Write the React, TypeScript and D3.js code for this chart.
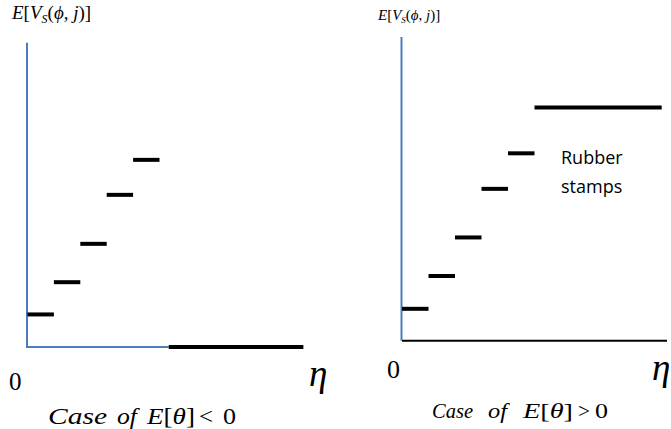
import React from "react";
import * as d3 from "d3";

// ---- data ----
const leftStepStarts = [0, 1, 2, 3, 4];
const leftStepValues = [1.07, 2.13, 3.39, 5.0, 6.15];
const leftFloor = { start: 5.35, end: 10.45, value: 0 };

const rightStepStarts = [0, 1, 2, 3, 4, 5];
const rightStepEnds = [1, 2, 3, 4, 5, 9.8];
const rightStepValues = [1.05, 2.13, 3.4, 5.0, 6.17, 7.68];

const W = 671;
const H = 429;
const BLUE = "#4A7EBB";
const SERIF = "'Liberation Serif', 'Times New Roman', serif";

function YLabel({ x, y, size }: { x: number; y: number; size: number }) {
  const sub = Math.round(size * 0.62);
  const dy = Math.round(size * 0.22);
  return (
    <text x={x} y={y} fontFamily={SERIF} fontSize={size}>
      <tspan fontStyle="italic">E</tspan>
      <tspan>[</tspan>
      <tspan fontStyle="italic">V</tspan>
      <tspan fontSize={sub} dy={dy} fontStyle="italic">S</tspan>
      <tspan dy={-dy}>(</tspan>
      <tspan fontStyle="italic">ϕ</tspan>
      <tspan>, </tspan>
      <tspan fontStyle="italic">j</tspan>
      <tspan>)]</tspan>
    </text>
  );
}

type Tok = { t: React.ReactNode; x: number; w: number; italic?: boolean };

function Caption({ y, size, toks }: { y: number; size: number; toks: Tok[] }) {
  return (
    <g fontFamily={SERIF} fontSize={size}>
      {toks.map((k, i) => (
        <text
          key={i}
          x={k.x}
          y={y}
          fontStyle={k.italic ? "italic" : "normal"}
          textLength={k.w}
          lengthAdjust="spacingAndGlyphs"
        >
          {k.t}
        </text>
      ))}
    </g>
  );
}

export default function App() {
  // left panel scales
  const lx = d3.scaleLinear().domain([0, 10]).range([27.5, 291.5]);
  const ly = d3.scaleLinear().domain([0, 10]).range([347, 42.7]);
  // right panel scales
  const rx = d3.scaleLinear().domain([0, 10]).range([402, 667]);
  const ry = d3.scaleLinear().domain([0, 10]).range([340.7, 37]);

  const theta = (
    <>
      <tspan fontStyle="italic">E</tspan>[<tspan fontStyle="italic">θ</tspan>]
    </>
  );

  return (
    <svg
      width={W}
      height={H}
      style={{ position: "absolute", left: 0, top: 0, background: "#fff" }}
    >
      <rect x={0} y={0} width={W} height={H} fill="#fff" />

      {/* ---------- left panel ---------- */}
      <YLabel x={12} y={19} size={19} />
      <line x1={lx(0) - 0.5} x2={lx(0) - 0.5} y1={ly(10)} y2={ly(0)} stroke={BLUE} strokeWidth={2} />
      <line x1={lx(0) - 1.5} x2={lx(leftFloor.start)} y1={ly(0)} y2={ly(0)} stroke={BLUE} strokeWidth={2} />
      {leftStepStarts.map((s, i) => (
        <line
          key={"l" + i}
          x1={lx(s)}
          x2={lx(s + 1)}
          y1={ly(leftStepValues[i])}
          y2={ly(leftStepValues[i])}
          stroke="#000"
          strokeWidth={4}
        />
      ))}
      <line
        x1={lx(leftFloor.start)}
        x2={lx(leftFloor.end)}
        y1={ly(leftFloor.value)}
        y2={ly(leftFloor.value)}
        stroke="#000"
        strokeWidth={4}
      />
      <text x={9} y={390} fontFamily={SERIF} fontSize={25}>0</text>
      <text x={309} y={386} fontFamily={SERIF} fontSize={37} fontStyle="italic">η</text>
      <Caption
        y={424}
        size={24}
        toks={[
          { t: "Case", x: 48, w: 59, italic: true },
          { t: "of", x: 117, w: 20, italic: true },
          { t: theta, x: 147, w: 48 },
          { t: "<", x: 199, w: 14 },
          { t: "0", x: 223, w: 13 },
        ]}
      />

      {/* ---------- right panel ---------- */}
      <YLabel x={378} y={20} size={15} />
      <line x1={rx(0) - 0.5} x2={rx(0) - 0.5} y1={ry(10)} y2={ry(0)} stroke={BLUE} strokeWidth={2} />
      <line x1={rx(0)} x2={rx(10)} y1={ry(0)} y2={ry(0)} stroke="#000" strokeWidth={2} />
      {rightStepStarts.map((s, i) => (
        <line
          key={"r" + i}
          x1={rx(s)}
          x2={rx(rightStepEnds[i])}
          y1={ry(rightStepValues[i])}
          y2={ry(rightStepValues[i])}
          stroke="#000"
          strokeWidth={4}
        />
      ))}
      <text x={561} y={164} fontFamily="'Open Sans', 'Noto Sans', sans-serif" fontSize={18}>Rubber</text>
      <text x={561} y={193} fontFamily="'Open Sans', 'Noto Sans', sans-serif" fontSize={18}>stamps</text>
      <text x={387} y={378} fontFamily={SERIF} fontSize={26}>0</text>
      <text x={652} y={380} fontFamily={SERIF} fontSize={37} fontStyle="italic">η</text>
      <Caption
        y={418}
        size={21}
        toks={[
          { t: "Case", x: 432, w: 41, italic: true },
          { t: "of", x: 488, w: 19, italic: true },
          { t: theta, x: 523, w: 50 },
          { t: ">", x: 578, w: 12 },
          { t: "0", x: 595, w: 13 },
        ]}
      />
    </svg>
  );
}
